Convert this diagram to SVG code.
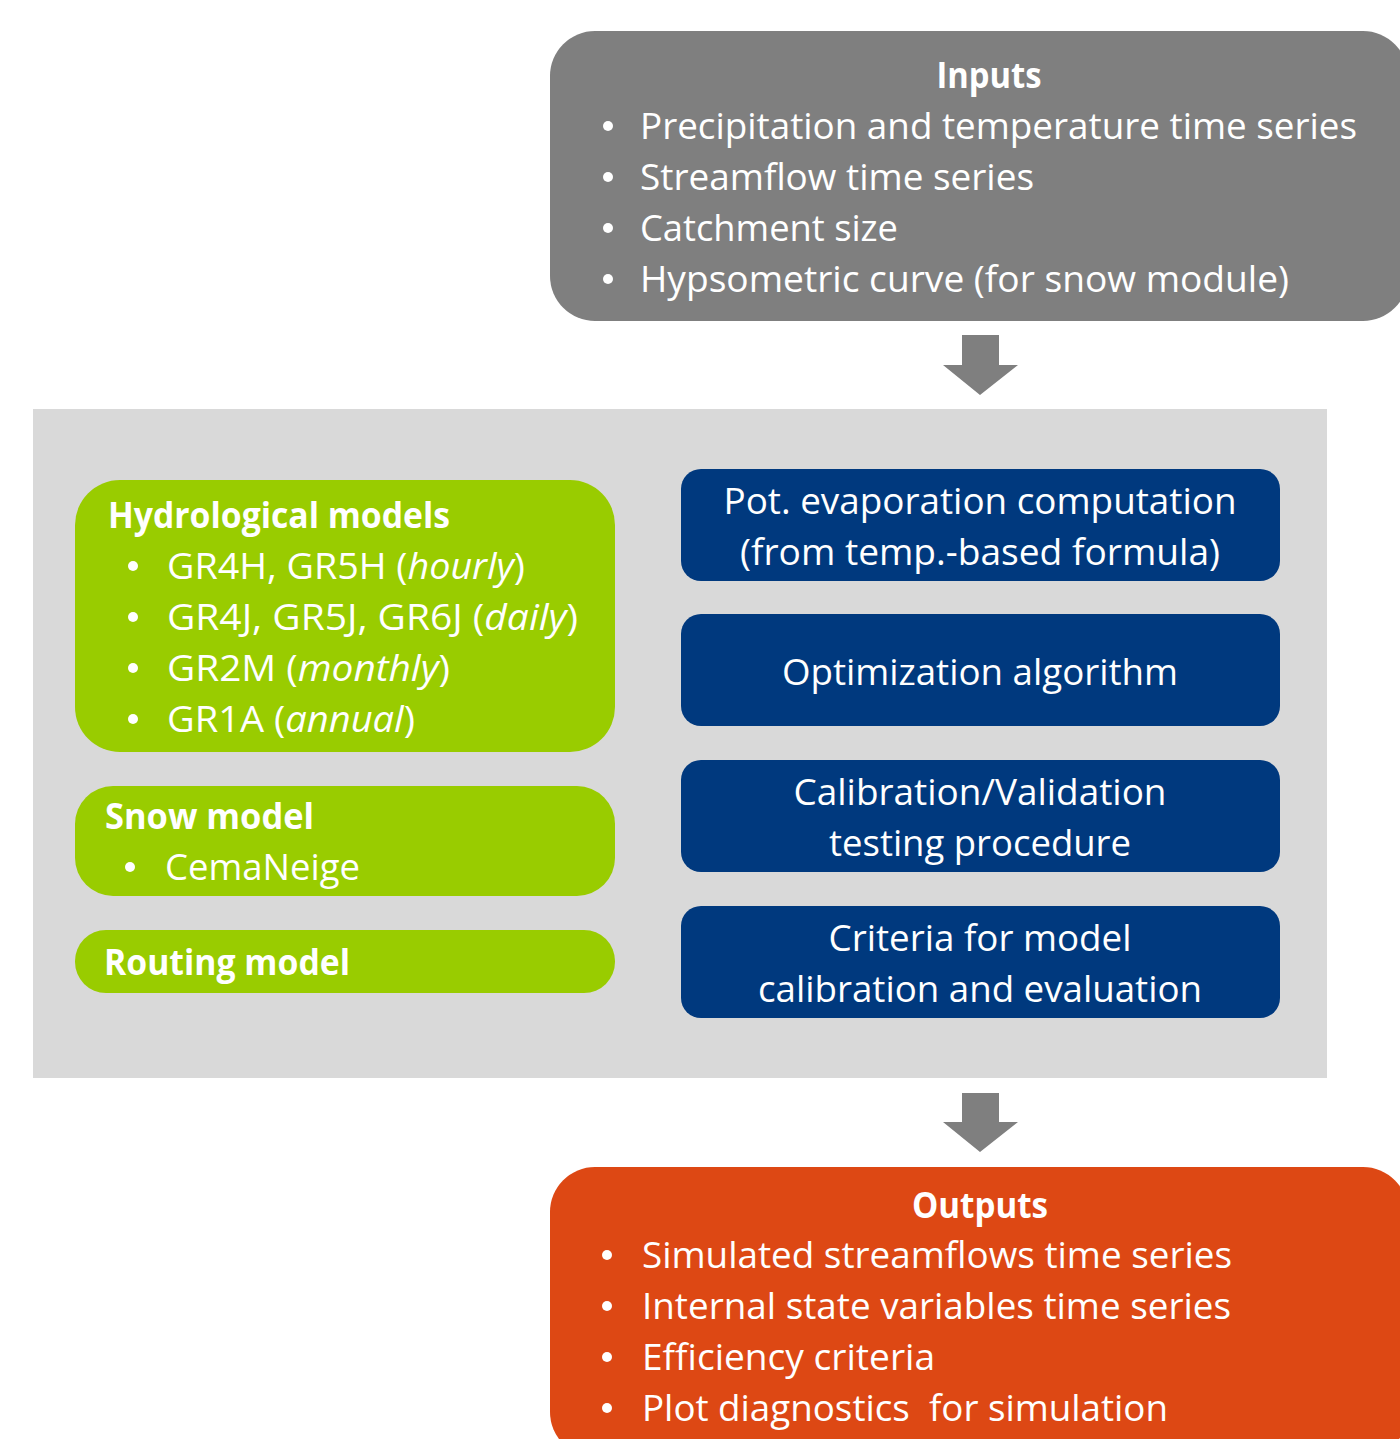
<svg xmlns="http://www.w3.org/2000/svg" width="1400" height="1439" viewBox="0 0 1400 1439">
<style>
text{font-family:"Open Sans","Liberation Sans",sans-serif;fill:#ffffff;font-size:36px}
.b{font-weight:bold}
.m{text-anchor:middle}
.i{font-style:italic}
.arrow{fill:#7f7f7f}
.dot{fill:#ffffff}
</style>
<rect x="0" y="0" width="1400" height="1439" fill="#ffffff"/>
<g id="inputs">
<rect x="550" y="31" width="858" height="290" rx="45" fill="#7f7f7f"/>
<text class="b m" x="989" y="88" textLength="105" lengthAdjust="spacingAndGlyphs">Inputs</text>
<circle class="dot" cx="608" cy="126" r="5"/><text x="640" y="139" textLength="717" lengthAdjust="spacingAndGlyphs">Precipitation and temperature time series</text>
<circle class="dot" cx="608" cy="177" r="5"/><text x="640" y="190" textLength="394" lengthAdjust="spacingAndGlyphs">Streamflow time series</text>
<circle class="dot" cx="608" cy="228" r="5"/><text x="640" y="241" textLength="258" lengthAdjust="spacingAndGlyphs">Catchment size</text>
<circle class="dot" cx="608" cy="279" r="5"/><text x="640" y="292" textLength="649" lengthAdjust="spacingAndGlyphs">Hypsometric curve (for snow module)</text>
</g>
<g id="connectors">
<polygon class="arrow" points="962,335 999,335 999,365 1018,365 980,395 943,365 962,365"/>
<polygon class="arrow" points="962,1093 999,1093 999,1122 1018,1122 980,1152 943,1122 962,1122"/>
</g>
<g id="panel">
<rect x="33" y="409" width="1294" height="669" fill="#d9d9d9"/>
</g>
<g id="hydrological">
<rect x="75" y="480" width="540" height="272" rx="45" fill="#99cc00"/>
<text class="b" x="108" y="528" textLength="342" lengthAdjust="spacingAndGlyphs">Hydrological models</text>
<circle class="dot" cx="133" cy="566" r="5"/><text x="167" y="579" textLength="358" lengthAdjust="spacingAndGlyphs">GR4H, GR5H (<tspan class="i">hourly</tspan>)</text>
<circle class="dot" cx="133" cy="617" r="5"/><text x="167" y="630" textLength="411" lengthAdjust="spacingAndGlyphs">GR4J, GR5J, GR6J (<tspan class="i">daily</tspan>)</text>
<circle class="dot" cx="133" cy="668" r="5"/><text x="167" y="681" textLength="283" lengthAdjust="spacingAndGlyphs">GR2M (<tspan class="i">monthly</tspan>)</text>
<circle class="dot" cx="133" cy="719" r="5"/><text x="167" y="732" textLength="248" lengthAdjust="spacingAndGlyphs">GR1A (<tspan class="i">annual</tspan>)</text>
</g>
<g id="snow">
<rect x="75" y="786" width="540" height="110" rx="38" fill="#99cc00"/>
<text class="b" x="105" y="829" textLength="209" lengthAdjust="spacingAndGlyphs">Snow model</text>
<circle class="dot" cx="130" cy="867" r="5"/><text x="165" y="880" textLength="195" lengthAdjust="spacingAndGlyphs">CemaNeige</text>
</g>
<g id="routing">
<rect x="75" y="930" width="540" height="63" rx="31" fill="#99cc00"/>
<text class="b" x="104" y="975" textLength="246" lengthAdjust="spacingAndGlyphs">Routing model</text>
</g>
<g id="pet">
<rect x="681" y="469" width="599" height="112" rx="20" fill="#00397e"/>
<text class="m" x="980" y="514" textLength="513" lengthAdjust="spacingAndGlyphs">Pot. evaporation computation</text>
<text class="m" x="980" y="565" textLength="480" lengthAdjust="spacingAndGlyphs">(from temp.-based formula)</text>
</g>
<g id="optim">
<rect x="681" y="614" width="599" height="112" rx="20" fill="#00397e"/>
<text class="m" x="980" y="685" textLength="396" lengthAdjust="spacingAndGlyphs">Optimization algorithm</text>
</g>
<g id="calval">
<rect x="681" y="760" width="599" height="112" rx="20" fill="#00397e"/>
<text class="m" x="980" y="805" textLength="373" lengthAdjust="spacingAndGlyphs">Calibration/Validation</text>
<text class="m" x="980" y="856" textLength="302" lengthAdjust="spacingAndGlyphs">testing procedure</text>
</g>
<g id="criteria">
<rect x="681" y="906" width="599" height="112" rx="20" fill="#00397e"/>
<text class="m" x="980" y="951" textLength="303" lengthAdjust="spacingAndGlyphs">Criteria for model</text>
<text class="m" x="980" y="1002" textLength="444" lengthAdjust="spacingAndGlyphs">calibration and evaluation</text>
</g>
<g id="outputs">
<rect x="550" y="1167" width="858" height="290" rx="45" fill="#dd4814"/>
<text class="b m" x="980" y="1218" textLength="136" lengthAdjust="spacingAndGlyphs">Outputs</text>
<circle class="dot" cx="607" cy="1255" r="5"/><text x="642" y="1268" textLength="590" lengthAdjust="spacingAndGlyphs">Simulated streamflows time series</text>
<circle class="dot" cx="607" cy="1306" r="5"/><text x="642" y="1319" textLength="589" lengthAdjust="spacingAndGlyphs">Internal state variables time series</text>
<circle class="dot" cx="607" cy="1357" r="5"/><text x="642" y="1370" textLength="293" lengthAdjust="spacingAndGlyphs">Efficiency criteria</text>
<circle class="dot" cx="607" cy="1408" r="5"/><text x="642" y="1421" textLength="526" lengthAdjust="spacingAndGlyphs" xml:space="preserve">Plot diagnostics  for simulation</text>
</g>
</svg>
